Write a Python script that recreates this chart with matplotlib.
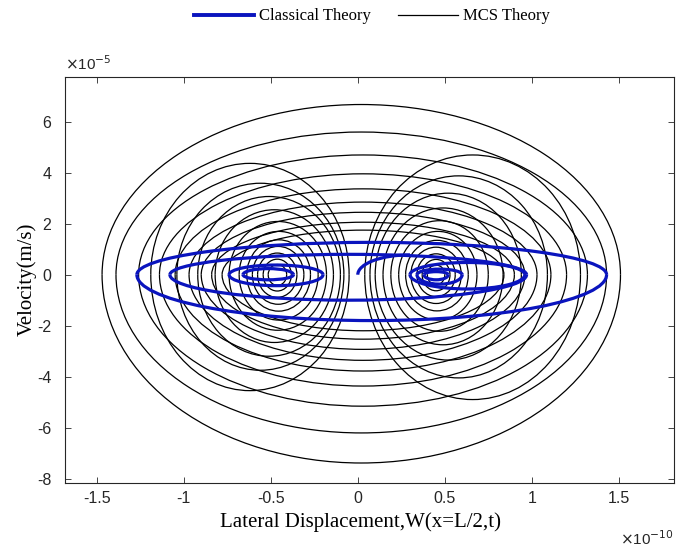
import matplotlib.pyplot as plt
from matplotlib.patches import Arc
from matplotlib.lines import Line2D

plt.rcParams['axes.unicode_minus'] = False

# Phase portrait, displacement in 1e-10 m, velocity in 1e-5 m/s
# Each loop: centre x, half width, upper height, lower height

# MCS theory - large loops around both wells
mcs_mid_cx = [0.02, 0.02, 0.03, 0.03, 0.03, 0.03, 0.03, 0.03, 0.03]
mcs_mid_a = [1.49, 1.41, 1.29, 1.17, 1.08, 1.00, 0.93, 0.87, 0.81]
mcs_mid_top = [6.68, 5.60, 4.70, 3.96, 3.37, 2.85, 2.45, 2.06, 1.75]
mcs_mid_bot = [7.39, 6.21, 5.16, 4.37, 3.78, 3.36, 2.93, 2.53, 2.20]

# MCS theory - loops around the left well
mcs_left_cx = [-0.462, -0.463, -0.463, -0.458, -0.455, -0.455, -0.46, -0.48, -0.51, -0.56, -0.62]
mcs_left_a = [0.053, 0.081, 0.113, 0.148, 0.183, 0.227, 0.28, 0.34, 0.41, 0.48, 0.57]
mcs_left_top = [0.40, 0.61, 0.85, 1.11, 1.37, 1.70, 2.09, 2.55, 3.07, 3.59, 4.37]
mcs_left_bot = [0.42, 0.64, 0.89, 1.16, 1.43, 1.78, 2.18, 2.66, 3.20, 3.75, 4.55]

# MCS theory - loops around the right well
mcs_right_cx = [0.45, 0.45, 0.45, 0.45, 0.455, 0.46, 0.47, 0.49, 0.52, 0.58, 0.66]
mcs_right_a = [0.05, 0.08, 0.11, 0.145, 0.18, 0.225, 0.28, 0.345, 0.42, 0.51, 0.62]
mcs_right_top = [0.38, 0.60, 0.82, 1.08, 1.35, 1.70, 2.12, 2.62, 3.20, 3.88, 4.70]
mcs_right_bot = [0.40, 0.63, 0.86, 1.13, 1.42, 1.78, 2.22, 2.75, 3.35, 4.05, 4.90]

# Classical theory loops
cl_cx = [0.08, -0.055, -0.47, -0.515, 0.63, 0.47, 0.45]
cl_a = [1.35, 1.025, 0.27, 0.145, 0.33, 0.13, 0.07]
cl_top = [1.27, 0.80, 0.38, 0.24, 0.48, 0.22, 0.12]
cl_bot = [1.80, 1.00, 0.43, 0.20, 0.56, 0.37, 0.20]

# Classical theory start: hook leaving the origin (centre x, half width, height)
cl_hook = (0.30, 0.30, 0.78)

fig = plt.figure(figsize=(6.88, 5.47), dpi=100)
ax = fig.add_axes([0.0945, 0.1177, 0.885, 0.742])

def draw_loops(cx, a, top, bot, color, lw, z):
    for c, w, t, b in zip(cx, a, top, bot):
        ax.add_patch(Arc((c, 0), 2 * w, 2 * t, theta1=0, theta2=180,
                         color=color, lw=lw, zorder=z))
        ax.add_patch(Arc((c, 0), 2 * w, 2 * b, theta1=180, theta2=360,
                         color=color, lw=lw, zorder=z))

draw_loops(mcs_mid_cx, mcs_mid_a, mcs_mid_top, mcs_mid_bot, 'black', 0.9, 2)
draw_loops(mcs_left_cx, mcs_left_a, mcs_left_top, mcs_left_bot, 'black', 0.9, 2)
draw_loops(mcs_right_cx, mcs_right_a, mcs_right_top, mcs_right_bot, 'black', 0.9, 2)
draw_loops(cl_cx, cl_a, cl_top, cl_bot, '#0a14be', 2.3, 3)
ax.add_patch(Arc((cl_hook[0], 0), 2 * cl_hook[1], 2 * cl_hook[2], theta1=90,
                 theta2=180, color='#0a14be', lw=2.3, zorder=3))

ax.set_xlim(-1.683, 1.817)
ax.set_ylim(-8.16, 7.77)
ax.set_xticks([-1.5, -1, -0.5, 0, 0.5, 1, 1.5])
ax.set_xticklabels(['-1.5', '-1', '-0.5', '0', '0.5', '1', '1.5'])
ax.set_yticks([-8, -6, -4, -2, 0, 2, 4, 6])
ax.tick_params(direction='in', top=True, right=True, length=4, width=0.6,
               labelsize=11.5, colors='#262626')
ax.tick_params(axis='x', pad=6)
ax.tick_params(axis='y', pad=10)
for lab in ax.get_xticklabels() + ax.get_yticklabels():
    lab.set_family('Liberation Sans')
for s in ax.spines.values():
    s.set_linewidth(0.8)
    s.set_color('#262626')

ax.set_xlabel('Lateral Displacement,W(x=L/2,t)', family='Liberation Serif',
              fontsize=15)
ax.xaxis.set_label_coords(0.485, -0.072, transform=ax.transAxes)
ax.xaxis.label.set_va('top')
ax.set_ylabel('Velocity(m/s)', family='Liberation Serif', fontsize=15, labelpad=0)
ax.text(0.0, 1.008, r'$\times$10$^{-5}$', transform=ax.transAxes, fontsize=11,
        family='Liberation Sans', color='#262626', va='bottom')
ax.text(1.0, -0.115, r'$\times$10$^{-10}$', transform=ax.transAxes, fontsize=11,
        family='Liberation Sans', color='#262626', ha='right', va='top')

handles = [Line2D([], [], color='#0a14be', lw=2.8),
           Line2D([], [], color='black', lw=0.9)]
fig.legend(handles, ['Classical Theory', 'MCS Theory'], loc='center',
           bbox_to_anchor=(0.541, 0.97), ncol=2, frameon=False,
           prop={'family': 'Liberation Serif', 'size': 12},
           handlelength=3.6, columnspacing=1.6, handletextpad=0.3)

fig.savefig('out.png', dpi=100)
